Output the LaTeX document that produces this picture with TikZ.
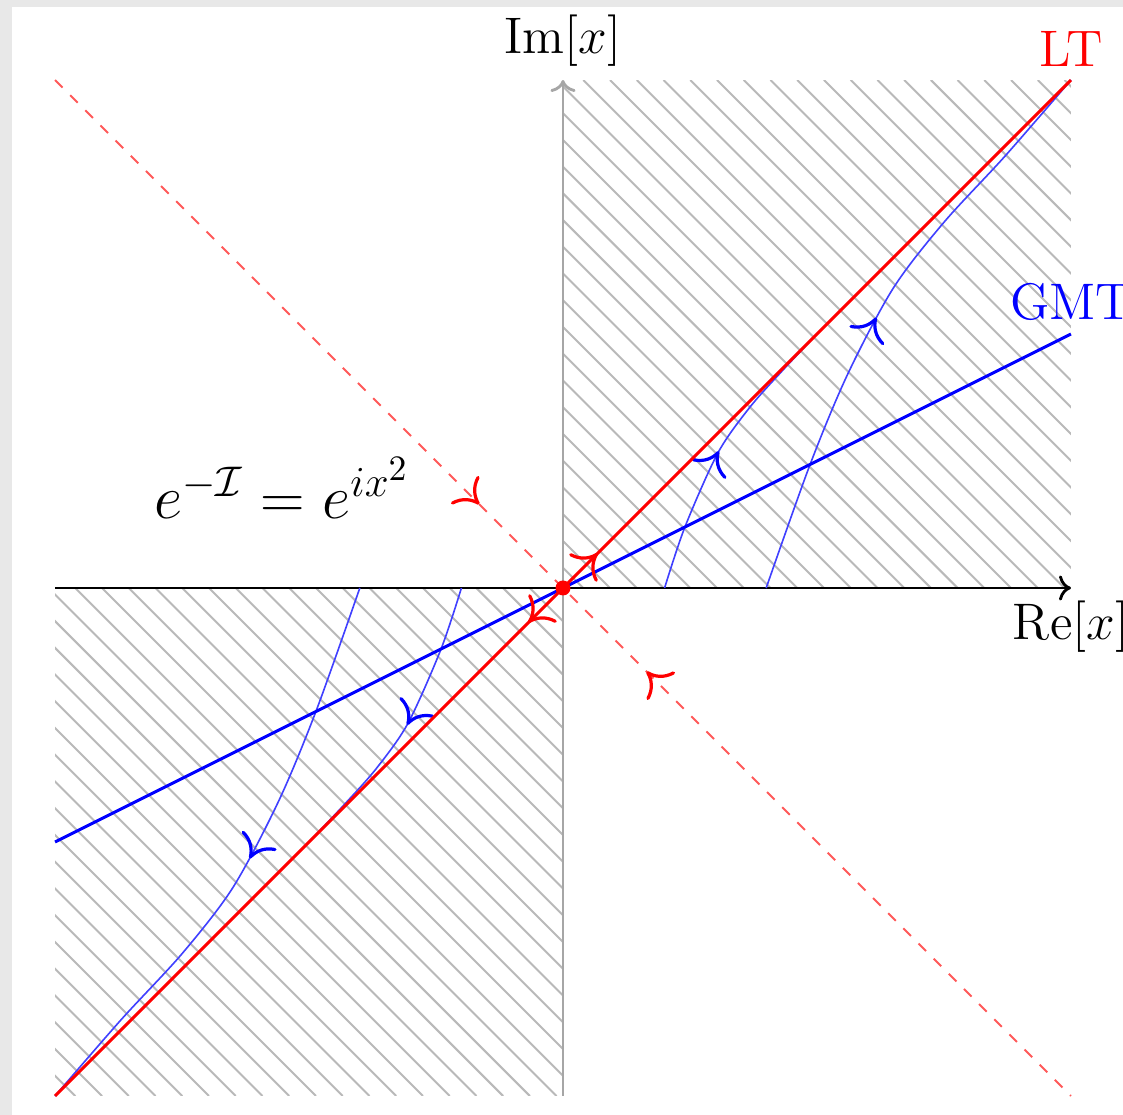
\documentclass[tikz,border=0pt]{standalone}
\usetikzlibrary{arrows.meta}
\usetikzlibrary{decorations.markings}

\tikzset{
  hatchline/.style={gray!55,line width=0.55pt},
  flowline/.style={blue!75,line width=0.45pt},
  thimble/.style={red,line width=0.85pt},
  fwdtip/.style 2 args={postaction={decorate,decoration={markings,
      mark=at position #1 with {\arrow[#2,line width=0.9pt]{To[length=6pt,width=11pt]}}}}},
  backtip/.style 2 args={postaction={decorate,decoration={markings,
      mark=at position #1 with {\arrowreversed[#2,line width=0.9pt]{To[length=6pt,width=11pt]}}}}},
}

\begin{document}
\begin{tikzpicture}[x=5cm,y=5cm]
  % frame of the screenshot
  \fill[black!9] (-1.1083,-1.0374) rectangle (1.1024,1.1575);
  \fill[white] (-1.0846,-1.0374) rectangle (1.1024,1.1437);
  \useasboundingbox (-1.1083,-1.0374) rectangle (1.1024,1.1575);
  \coordinate (O) at (0,0);

  % hatched quadrants
  \begin{scope}
    \clip (0,0) rectangle (1,1) (-1,-1) rectangle (0,0);
    \foreach \k in {-40,...,40}
      \draw[hatchline] ({0.04+\k/19-1},1) -- ({0.04+\k/19+1},-1);
  \end{scope}

  % axes
  \draw[gray!70,line width=0.8pt,->] (0,-1) -- (0,1)
    node (imlab) [above,black,font=\Large] {$\mathrm{Im}[x]$};
  \draw[black,line width=0.8pt,->] (-1,0) -- (1,0)
    node (relab) [below,font=\Large] {$\mathrm{Re}[x]$};

  % flow lines
  \draw[flowline,fwdtip={0.49}{blue}] plot[smooth] coordinates
    {(0.2,0) (0.24,0.12) (0.305,0.266) (0.368,0.356) (0.433,0.429) (0.5,0.5)};
  \draw[flowline,fwdtip={0.487}{blue}] plot[smooth] coordinates
    {(0.4,0) (0.486,0.242) (0.56,0.42) (0.65,0.59) (0.75,0.72) (0.87,0.85) (1,1)};
  \draw[flowline,fwdtip={0.49}{blue}] plot[smooth] coordinates
    {(-0.2,0) (-0.24,-0.12) (-0.305,-0.266) (-0.368,-0.356) (-0.433,-0.429) (-0.5,-0.5)};
  \draw[flowline,fwdtip={0.487}{blue}] plot[smooth] coordinates
    {(-0.4,0) (-0.486,-0.242) (-0.56,-0.42) (-0.65,-0.59) (-0.75,-0.72) (-0.87,-0.85) (-1,-1)};

  % GMT and LT
  \draw[blue,line width=0.85pt] (-1,-0.5) -- (1,0.5)
    node (gmt) [above,font=\Large] {GMT};
  \draw[thimble,fwdtip={0.534}{red},backtip={0.466}{red}] (-1,-1) -- (1,1)
    node (lt) [above,font=\Large] {LT};
  \draw[red!65,line width=0.5pt,dashed,fwdtip={0.4176}{red},backtip={0.5824}{red}]
    (-1,1) -- (1,-1);

  \node[circle,fill=red,inner sep=0pt,minimum size=4.2pt] (saddle) at (O) {};
  \node[font=\LARGE] (weight) at (-0.553,0.197) {$e^{-\mathcal{I}} = e^{ix^2}$};
\end{tikzpicture}
\end{document}
